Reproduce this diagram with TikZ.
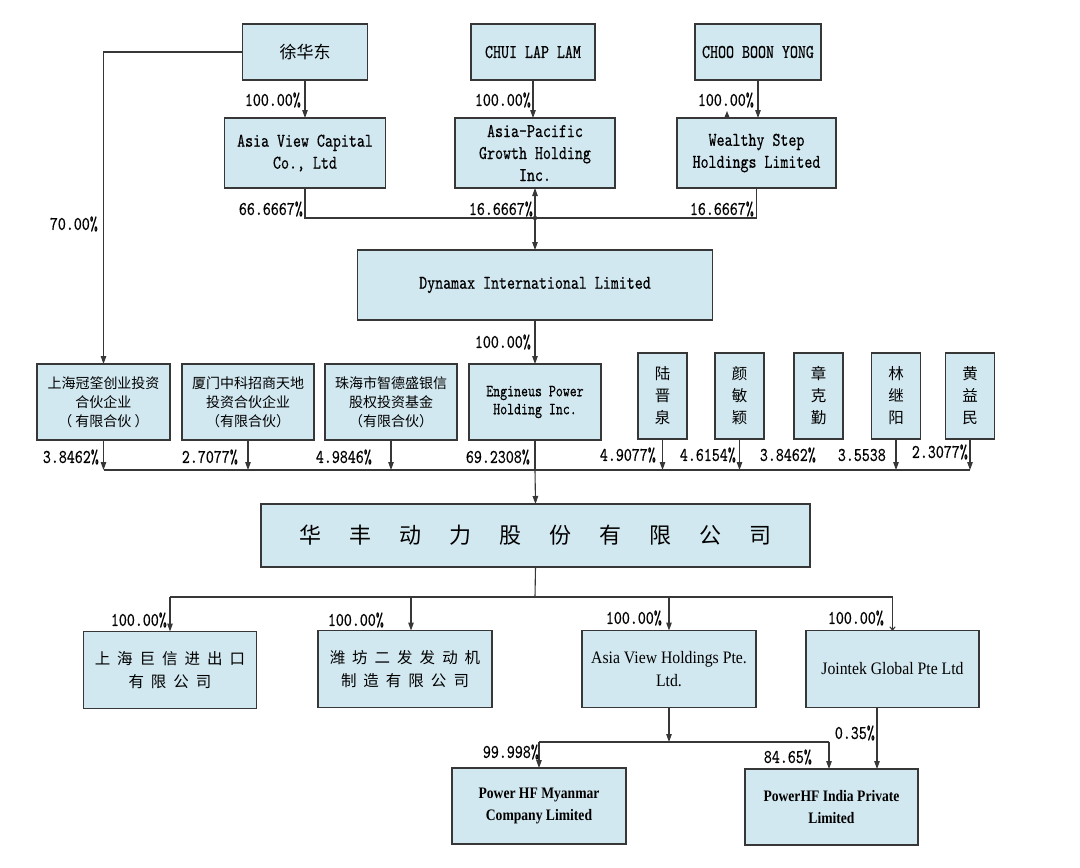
\documentclass[tikz,border=0pt]{standalone}
\usepackage{fontspec}
\setmonofont[FakeStretch=0.78,FakeBold=0.4]{lmmono10-regular.otf}
\newfontfamily\cjk{Noto Sans CJK SC}
\newfontfamily\tnr[FakeStretch=0.9]{Liberation Serif}
\newfontfamily\tnrb[FakeStretch=0.85]{Liberation Serif Bold}
\usetikzlibrary{arrows.meta}
\definecolor{boxfill}{RGB}{210,232,240}
\definecolor{edge}{RGB}{55,55,55}
\tikzset{
  box/.style={draw=edge, line width=1.3pt, fill=boxfill, inner sep=0pt, outer sep=0pt, align=center},
  conn/.style={draw=edge, line width=1.1pt},
  arr/.style={conn, -{Triangle[length=8pt,width=5.5pt]}},
  thinarr/.style={conn, -{To[length=4pt,width=6pt]}},
  lbl/.style={anchor=east, inner sep=0pt, font=\ttfamily\fontsize{19.5}{20}\selectfont},
  mono/.style={font=\ttfamily\fontsize{19.5}{22}\selectfont},
  monos/.style={font=\ttfamily\fontsize{17}{18}\selectfont},
  zh/.style={font=\cjk\fontsize{14}{19}\selectfont},
  zhv/.style={font=\cjk\fontsize{15.5}{22}\selectfont},
  zhl/.style={font=\cjk\fontsize{15.5}{23}\selectfont},
  tr/.style={font=\tnr\fontsize{17.5}{23}\selectfont},
  trb/.style={font=\tnrb\fontsize{16}{22}\selectfont},
}
\newcommand\g{\hspace{7pt}}
\newcommand\G{\hspace{28pt}}
\begin{document}
\begin{tikzpicture}[x=1pt,y=-1pt]
\fill[white] (0,0) rectangle (1080,868);
\useasboundingbox (0,0) rectangle (1080,868);
% top row
\node[box, minimum width=125, minimum height=56, font=\cjk\fontsize{17}{18}\selectfont] (xu) at (305,52) {徐华东};
\node[box, minimum width=124, minimum height=56, mono] (chui) at (533,52) {CHUI LAP LAM};
\node[box, minimum width=126, minimum height=56, mono] (choo) at (758,52) {CHOO BOON YONG};
% second row
\node[box, minimum width=161, minimum height=70, mono] (avc) at (305,153) {Asia View Capital\\Co., Ltd};
\node[box, minimum width=160, minimum height=70, mono] (apg) at (535,153) {Asia-Pacific\\Growth Holding\\Inc.};
\node[box, minimum width=159, minimum height=70, mono] (ws) at (756.5,153) {Wealthy Step\\Holdings Limited};
% Dynamax
\node[box, minimum width=355, minimum height=70, mono] (dyn) at (535,285) {Dynamax International Limited};
% third row
\node[box, minimum width=133, minimum height=76, zh] (sgc) at (103.5,402) {上海冠筌创业投资\\合伙企业\\（ 有限合伙 ）};
\node[box, minimum width=132, minimum height=76, zh] (xm) at (248,402) {厦门中科招商天地\\投资合伙企业\\（有限合伙）};
\node[box, minimum width=132, minimum height=76, zh] (zhs) at (391,402) {珠海市智德盛银信\\股权投资基金\\（有限合伙）};
\node[box, minimum width=132, minimum height=76, monos] (eng) at (535,402) {Engineus Power\\Holding Inc.};
\node[box, minimum width=49, minimum height=86, zhv] (lu) at (662.5,396) {陆\\晋\\泉};
\node[box, minimum width=49, minimum height=86, zhv] (yan) at (739.5,396) {颜\\敏\\颖};
\node[box, minimum width=49, minimum height=86, zhv] (zhang) at (818.5,396) {章\\克\\勤};
\node[box, minimum width=49, minimum height=86, zhv] (lin) at (896,396) {林\\继\\阳};
\node[box, minimum width=49, minimum height=86, zhv] (huang) at (970,396) {黄\\益\\民};
% main company
\node[box, minimum width=549, minimum height=63, font=\cjk\fontsize{22}{24}\selectfont] (hf) at (535.5,535.5) {华\G 丰\G 动\G 力\G 股\G 份\G 有\G 限\G 公\G 司};
% fourth row
\node[box, minimum width=173, minimum height=77, zhl] (jx) at (170,670) {上\g 海\g 巨\g 信\g 进\g 出\g 口\\有\g 限\g 公\g 司};
\node[box, minimum width=174, minimum height=77, zhl] (wf) at (405,669) {潍\g 坊\g 二\g 发\g 发\g 动\g 机\\制\g 造\g 有\g 限\g 公\g 司};
\node[box, minimum width=174, minimum height=77, tr] (avh) at (669,669) {Asia View Holdings Pte.\\Ltd.};
\node[box, minimum width=173, minimum height=77, tr] (jt) at (892.5,669) {Jointek Global Pte Ltd};
% fifth row
\node[box, minimum width=174, minimum height=76, trb] (mm) at (539,806) {Power HF Myanmar\\Company Limited};
\node[box, minimum width=173, minimum height=76, trb] (ind) at (831.5,807) {PowerHF India Private\\Limited};

% connectors top
\draw[arr] (xu.south) -- (avc.north);
\draw[arr] (chui.south) -- (chui.south |- apg.north);
\draw[arr] (choo.south) -- (choo.south |- ws.north);
\coordinate (wsk) at (727,118);
\draw[conn, -{Triangle[length=6pt,width=4.5pt]}] (choo.south |- wsk) -- (wsk) -- ++(0,-7);
\coordinate (j1) at (535,218);
\draw[conn] (avc.south) |- (j1);
\draw[conn] (ws.south) |- (j1);
\draw[arr] (j1) -- (apg.south);
\draw[arr] (j1) -- (dyn.north);
\fill[edge] (j1) circle (2.2pt);
\draw[arr] (dyn.south) -- (eng.north);
\draw[arr] (xu.west) -| (sgc.north);
% shareholders to main
\coordinate (j2) at (535,470);
\draw[conn] (sgc.south |- j2) -- (huang.south |- j2);
\draw[arr] (sgc.south) -- (sgc.south |- j2);
\draw[arr] (xm.south) -- (xm.south |- j2);
\draw[arr] (zhs.south) -- (zhs.south |- j2);
\draw[conn] (eng.south) -- (j2);
\draw[arr] (lu.south) -- (lu.south |- j2);
\draw[arr] (yan.south) -- (yan.south |- j2);
\draw[arr] (lin.south) -- (lin.south |- j2);
\draw[arr] (huang.south) -- (huang.south |- j2);
\draw[arr] (j2) -- (hf.north);
% subsidiaries
\coordinate (j3) at (535,597);
\draw[conn] (hf.south) -- (j3);
\draw[conn] (jx.north |- j3) -- (jt.north |- j3);
\draw[arr] (jx.north |- j3) -- (jx.north);
\coordinate (wfk) at (411,597);
\draw[arr] (wfk) -- (wfk |- wf.north);
\draw[arr] (avh.north |- j3) -- (avh.north);
\draw[thinarr] (jt.north |- j3) -- (jt.north);
% second-level subsidiaries
\coordinate (j4) at (669,742);
\draw[arr] (avh.south) -- (j4);
\coordinate (k1) at (539,742);
\coordinate (k2) at (829,742);
\draw[conn] (k1) -- (k2);
\draw[arr] (k1) -- (k1 |- mm.north);
\draw[arr] (k2) -- (k2 |- ind.north);
\coordinate (k3) at (877,708);
\draw[arr] (k3 |- jt.south) -- (k3 |- ind.north);

% labels
\node[lbl] (l1) at (98,224) {70.00\%};
\node[lbl] (l2) at (301,100) {100.00\%};
\node[lbl] (l3) at (531,100) {100.00\%};
\node[lbl] (l4) at (754,100) {100.00\%};
\node[lbl] (l5) at (303,209) {66.6667\%};
\node[lbl] (l6) at (533,209) {16.6667\%};
\node[lbl] (l7) at (754,209) {16.6667\%};
\node[lbl] (l8) at (531,342) {100.00\%};
\node[lbl] (l9) at (99,457) {3.8462\%};
\node[lbl] (l10) at (238,457) {2.7077\%};
\node[lbl] (l11) at (372,457) {4.9846\%};
\node[lbl] (l12) at (530,457) {69.2308\%};
\node[lbl] (l13) at (656,455) {4.9077\%};
\node[lbl] (l14) at (736,455) {4.6154\%};
\node[lbl] (l15) at (816,455) {3.8462\%};
\node[lbl] (l16) at (886,455) {3.5538};
\node[lbl] (l17) at (968,452) {2.3077\%};
\node[lbl] (l18) at (167,620) {100.00\%};
\node[lbl] (l19) at (384,620) {100.00\%};
\node[lbl] (l20) at (662,618) {100.00\%};
\node[lbl] (l21) at (884,618) {100.00\%};
\node[lbl] (l22) at (539,752) {99.998\%};
\node[lbl] (l23) at (812,757) {84.65\%};
\node[lbl] (l24) at (875,733) {0.35\%};
\end{tikzpicture}
\end{document}
